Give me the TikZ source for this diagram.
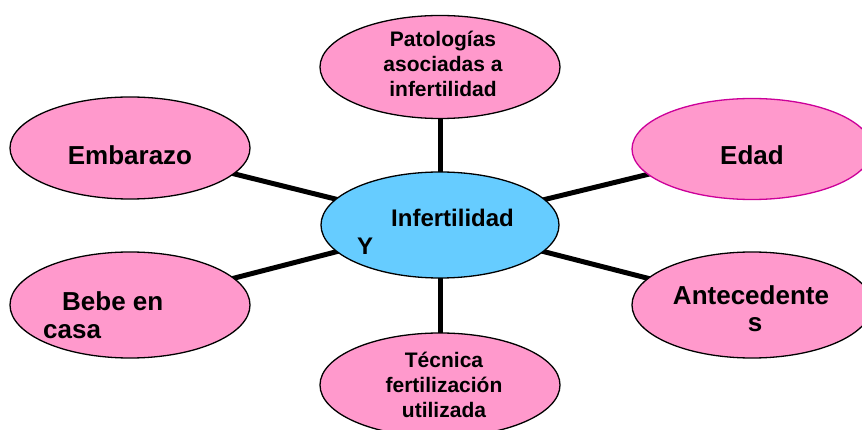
\documentclass[tikz,border=0pt]{standalone}
\usepackage{fontspec}
\setmainfont{Liberation Sans}
\usetikzlibrary{shapes.geometric,backgrounds}
\definecolor{pinkfill}{HTML}{FF99CC}
\definecolor{bluefill}{HTML}{66CCFF}
\definecolor{edadline}{HTML}{CC0099}
\begin{document}
\begin{tikzpicture}[x=1pt,y=-1pt,
 bubble/.style={ellipse, draw=black, line width=1.3pt, fill=pinkfill, minimum width=240pt, minimum height=104pt, inner sep=0pt},
 hub/.style={bubble, fill=bluefill, minimum width=238pt, minimum height=106pt},
 link/.style={line width=5pt, draw=black},
 big/.style={font=\bfseries\fontsize{26}{30}\selectfont, inner sep=0pt, anchor=base},
 mid/.style={font=\bfseries\fontsize{24}{28}\selectfont, inner sep=0pt, anchor=base west},
 small/.style={font=\bfseries\fontsize{21}{25}\selectfont, inner sep=0pt, anchor=base},
]
\useasboundingbox (0,0) rectangle (862,430);
\clip (0,0) rectangle (862,430);
\node[hub] (inf) at (440,225) {};
\node[bubble, minimum height=103pt] (pat) at (440,67) {};
\node[bubble, minimum height=104pt] (tec) at (440,385) {};
\node[bubble, minimum height=102pt] (emb) at (130,148) {};
\node[bubble, minimum height=106pt] (beb) at (130,305) {};
\node[bubble, draw=edadline, minimum height=101pt] (eda) at (752,149) {};
\node[bubble, minimum height=106pt] (ant) at (752,305) {};
\begin{scope}[on background layer]
\draw[link] (pat.center) -- (inf.center);
\draw[link] (tec.center) -- (inf.center);
\draw[link] (emb.center) -- (inf.center);
\draw[link] (beb.center) -- (inf.center);
\draw[link] (eda.center) -- (inf.center);
\draw[link] (ant.center) -- (inf.center);
\end{scope}
\node[mid] (tinf) at (391,227) {Infertilidad};
\node[mid] (ty) at (357,255) {Y};
\node[small] (tp1) at (443,47) {Patologías};
\node[small] (tp2) at (443,72) {asociadas a};
\node[small] (tp3) at (443,97) {infertilidad};
\node[small] (tt1) at (444,367) {Técnica};
\node[small] (tt2) at (444,392) {fertilización};
\node[small] (tt3) at (444,417) {utilizada};
\node[big] (temb) at (130,165) {Embarazo};
\node[big] (teda) at (752,165) {Edad};
\node[big] (tan1) at (751,305) {Antecedente};
\node[big] (tan2) at (755,331) {s};
\node[big, anchor=base west] (tb1) at (62,310) {Bebe en};
\node[big, anchor=base west] (tb2) at (43,338) {casa};
\end{tikzpicture}
\end{document}
